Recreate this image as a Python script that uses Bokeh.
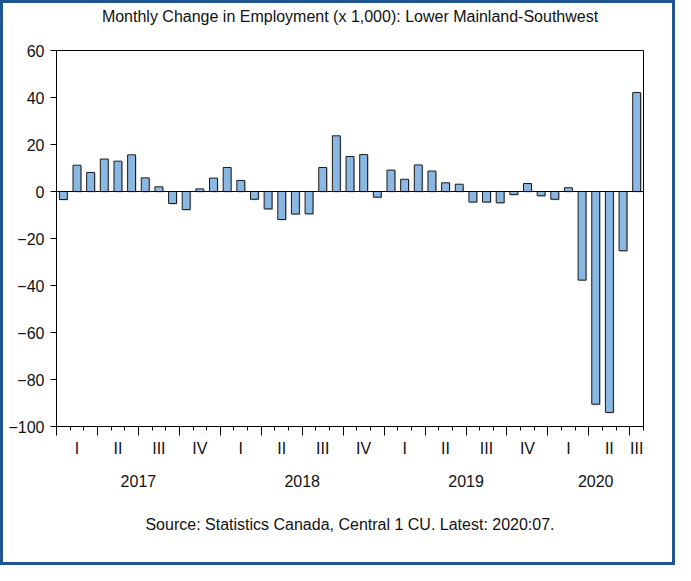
from bokeh.plotting import figure
from bokeh.models import (Range1d, FixedTicker, Span, LinearAxis, Title)
from bokeh.embed import file_html
from bokeh.resources import INLINE

# ---- data ----
months = ["2017:%02d" % m for m in range(1, 13)] + ["2018:%02d" % m for m in range(1, 13)] + \
         ["2019:%02d" % m for m in range(1, 13)] + ["2020:%02d" % m for m in range(1, 8)]
values = [-3.4, 11.2, 8.1, 13.8, 12.9, 15.6, 5.8, 2.0, -5.1, -7.7, 1.1, 5.7,
          10.2, 4.7, -3.3, -7.4, -11.9, -9.6, -9.5, 10.2, 23.7, 14.9, 15.7, -2.4,
          9.1, 5.2, 11.3, 8.7, 3.7, 3.1, -4.5, -4.5, -4.8, -1.3, 3.4, -1.8,
          -3.3, 1.6, -37.7, -90.5, -94.0, -25.2, 42.1]
quarter_labels = ["I", "II", "III", "IV"] * 3 + ["I", "II", "III"]
year_labels = ["2017", "2018", "2019", "2020"]
y_ticks = [-100, -80, -60, -40, -20, 0, 20, 40, 60]
title_text = "Monthly Change in Employment (x 1,000): Lower Mainland-Southwest"
source_text = "Source: Statistics Canada, Central 1 CU. Latest: 2020:07."

n = len(values)
x = [i + 0.5 for i in range(n)]
FONT = "Liberation Sans"
TXT = "#111111"

W, H = 675, 565
p = figure(width=W, height=H, output_backend="svg", toolbar_location=None,
           x_range=Range1d(0, n), y_range=Range1d(-100, 60),
           min_border_left=53, min_border_right=35, min_border_top=47, min_border_bottom=142)
p.styles = {"border": "3px solid #1F5591"}
p.xgrid.visible = False
p.ygrid.visible = False
p.outline_line_color = "black"
p.outline_line_width = 1
p.background_fill_color = "white"
p.border_fill_color = "white"

# shadow
px_x = n / 587.0
px_y = 160 / 376.0
p.vbar(x=[v + px_x for v in x], top=[v - px_y for v in values], bottom=[-px_y] * n,
       width=0.58, fill_color="#9a9a9a", line_color=None, fill_alpha=0.6)
p.vbar(x=x, top=values, bottom=0, width=0.58, fill_color="#8BB8E3",
       line_color="#1a1a1a", line_width=1)
p.add_layout(Span(location=0, dimension="width", line_color="black", line_width=1))

# y axis
p.yaxis.ticker = FixedTicker(ticks=y_ticks)
p.yaxis.major_tick_out = 6
p.yaxis.major_tick_in = 0
p.yaxis.minor_tick_line_color = None
p.yaxis.axis_line_color = "black"
p.yaxis.major_label_text_font = FONT
p.yaxis.major_label_text_font_size = "16px"
p.yaxis.major_label_text_color = TXT
p.yaxis.major_label_standoff = 6

# x axis: month ticks, quarter boundaries longer
qb = list(range(0, n, 3))
p.xaxis.ticker = FixedTicker(ticks=qb, minor_ticks=list(range(0, n + 1)))
p.xaxis.major_tick_out = 9
p.xaxis.major_tick_in = 0
p.xaxis.minor_tick_out = 4
p.xaxis.minor_tick_in = 0
p.xaxis.major_label_text_alpha = 0
p.xaxis.major_label_text_font_size = "0px"
p.xaxis.major_label_standoff = 0
p.xaxis.axis_line_color = "black"


def label_axis(ticks, labels, standoff):
    ax = LinearAxis(ticker=FixedTicker(ticks=ticks),
                    major_label_overrides={t: l for t, l in zip(ticks, labels)})
    ax.axis_line_color = None
    ax.major_tick_line_color = None
    ax.minor_tick_line_color = None
    ax.major_tick_out = 0
    ax.major_tick_in = 0
    ax.major_label_standoff = standoff
    ax.major_label_text_font = FONT
    ax.major_label_text_font_size = "16px"
    ax.major_label_text_color = TXT
    return ax


# quarter labels centred over visible months of each quarter
qx = [(min(b + 3, n) + b) / 2 for b in qb]
p.add_layout(label_axis(qx, quarter_labels[:len(qx)], 4), "below")
# year labels
yx = [(min(b + 12, n) + b) / 2 for b in range(0, n, 12)]
p.add_layout(label_axis(yx, year_labels, 15), "below")

p.add_layout(Title(text=source_text, align="center", text_font=FONT, text_font_size="16px",
                   text_font_style="normal", text_color=TXT, standoff=48), "below")

# chart title as the label of a bare axis above the frame
top_ax = LinearAxis(ticker=FixedTicker(ticks=[]), axis_label=title_text)
top_ax.axis_line_color = None
top_ax.major_tick_line_color = None
top_ax.minor_tick_line_color = None
top_ax.major_tick_out = 0
top_ax.major_tick_in = 0
top_ax.major_label_standoff = 0
top_ax.axis_label_standoff = 26
top_ax.axis_label_text_font = FONT
top_ax.axis_label_text_font_size = "16px"
top_ax.axis_label_text_font_style = "normal"
top_ax.axis_label_text_color = TXT
p.add_layout(top_ax, "above")

open("out.html", "w").write(file_html(p, INLINE))
